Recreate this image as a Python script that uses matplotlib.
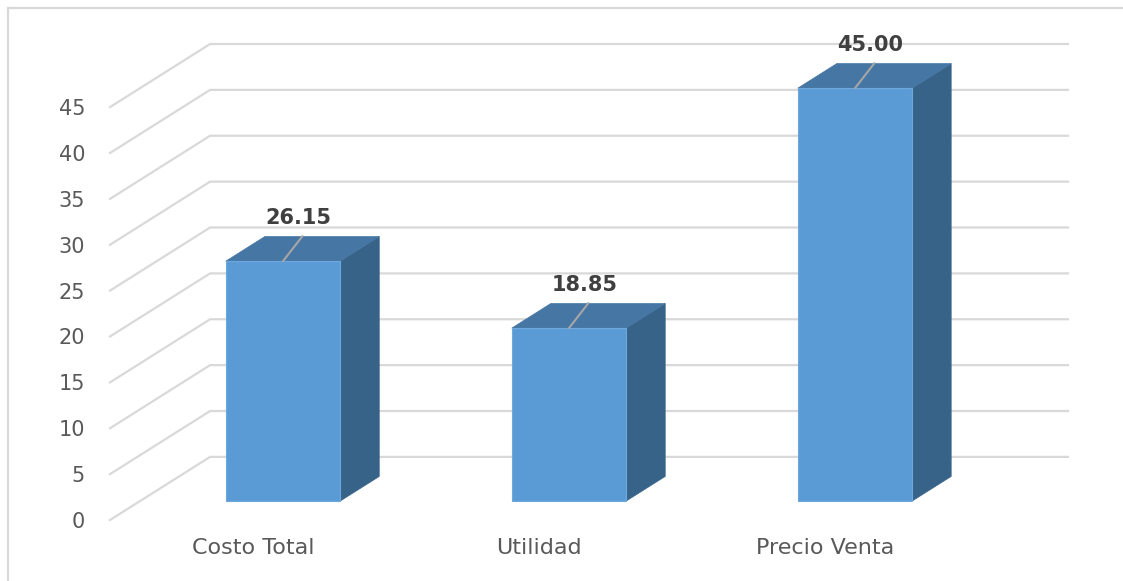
import matplotlib
matplotlib.use("Agg")
import matplotlib.pyplot as plt
from matplotlib.patches import Polygon
from matplotlib.lines import Line2D

categories = ["Costo Total", "Utilidad", "Precio Venta"]
values = [26.15, 18.85, 45.00]
ticks = [0, 5, 10, 15, 20, 25, 30, 35, 40, 45]

# oblique 3d look: depth offset of the back wall in data units
DX = 0.35
DY = 6.88
D_FRONT, D_BACK = 0.30, 0.69
HALF_W = 0.2

grid_c = "#D9D9D9"
front_c = "#5B9BD5"
top_c = "#4676A3"
side_c = "#386389"
text_c = "#595959"

W, H = 1123, 581
fig = plt.figure(figsize=(W / 100, H / 100), dpi=100)
ax = fig.add_axes([110 / W, (H - 520) / H, 958 / W, 476 / H])
ax.set_xlim(-0.5, len(categories) - 0.5 + DX)
ax.set_ylim(0, ticks[-1] + DY)
for s in ax.spines.values():
    s.set_visible(False)

# back wall + side wall gridlines
x0 = -0.5
x1 = len(categories) - 0.5
for v in ticks:
    ax.plot([x0, x0 + DX, x1 + DX], [v, v + DY, v + DY], color=grid_c,
            lw=1.6, clip_on=False, zorder=1, solid_joinstyle="miter")


def pt(x, v, d):
    return (x + d * DX, v + d * DY)


for i, v in enumerate(values):
    l, r = i - HALF_W, i + HALF_W
    front = [pt(l, 0, D_FRONT), pt(r, 0, D_FRONT), pt(r, v, D_FRONT), pt(l, v, D_FRONT)]
    top = [pt(l, v, D_FRONT), pt(r, v, D_FRONT), pt(r, v, D_BACK), pt(l, v, D_BACK)]
    side = [pt(r, 0, D_FRONT), pt(r, 0, D_BACK), pt(r, v, D_BACK), pt(r, v, D_FRONT)]
    ax.add_patch(Polygon(side, closed=True, facecolor=side_c, edgecolor=side_c, lw=0.5, zorder=3))
    ax.add_patch(Polygon(top, closed=True, facecolor=top_c, edgecolor=top_c, lw=0.5, zorder=3))
    ax.add_patch(Polygon(front, closed=True, facecolor=front_c, edgecolor="#6FA8DC", lw=0.8, zorder=4))

    cx, cy = pt(i, v, D_FRONT)
    ax.annotate("", xy=(cx, cy), xytext=(14, 18), textcoords="offset points",
                arrowprops=dict(arrowstyle="-", color="#A6A6A6", lw=1.5,
                                shrinkA=0, shrinkB=0), zorder=5)
    ax.annotate(f"{v:.2f}", xy=(cx, cy), xytext=(11, 31), textcoords="offset points",
                ha="center", va="center", fontsize=15, fontweight="bold",
                color="#404040", zorder=6)

ax.set_yticks(ticks)
ax.set_yticklabels([str(t) for t in ticks])
ax.set_xticks(range(len(categories)))
ax.set_xticklabels(categories)
ax.tick_params(axis="y", length=0, pad=18, labelsize=15, labelcolor=text_c)
ax.tick_params(axis="x", length=0, pad=13, labelsize=16, labelcolor=text_c)

# chart frame (left and top edges visible)
fig.add_artist(Line2D([8 / W, 8 / W], [0, (H - 8) / H], color=grid_c, lw=1.6))
fig.add_artist(Line2D([8 / W, 1], [(H - 8) / H, (H - 8) / H], color=grid_c, lw=1.6))

fig.savefig("out.png", dpi=100)
